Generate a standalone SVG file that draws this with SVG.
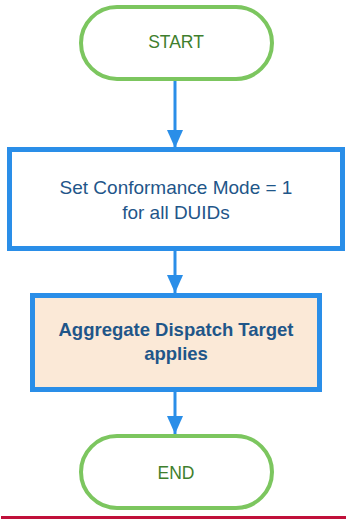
<svg xmlns="http://www.w3.org/2000/svg" width="346" height="519" viewBox="0 0 346 519">
<style>
.term{fill:#ffffff;stroke:#7cc65f;stroke-width:4}
.proc{fill:#ffffff;stroke:#2a8ee8;stroke-width:5}
.hl{fill:#fbe9d7}
.tt{font-family:"Liberation Sans",Arial,sans-serif;font-size:17.5px;fill:#3f7f2e;text-anchor:middle}
.pt{font-family:"Liberation Sans",Arial,sans-serif;font-size:19px;fill:#1f5689;text-anchor:middle}
.b{font-weight:bold;font-size:18.5px}
.conn{stroke:#2a8ee8;stroke-width:3;fill:none}
</style>
<defs>
<marker id="ah" viewBox="0 0 18 16" refX="18" refY="8" markerWidth="18" markerHeight="16" markerUnits="userSpaceOnUse" orient="auto">
<path d="M0,0 L18,8 L0,16 Z" fill="#2a8ee8"/>
</marker>
</defs>
<rect x="0" y="0" width="346" height="519" fill="#ffffff"/>
<g id="connectors">
<line class="conn" x1="175" y1="80" x2="175" y2="148" marker-end="url(#ah)"/>
<line class="conn" x1="175" y1="250" x2="175" y2="293" marker-end="url(#ah)"/>
<line class="conn" x1="175" y1="392" x2="175" y2="434" marker-end="url(#ah)"/>
</g>
<g id="start">
<rect class="term" x="81" y="7" width="191" height="72" rx="36"/>
<text class="tt" x="176" y="48">START</text>
</g>
<g id="setmode">
<rect class="proc" x="9.5" y="149.5" width="333" height="99"/>
<text class="pt" x="176" y="194">Set Conformance Mode = 1</text>
<text class="pt" x="176" y="219">for all DUIDs</text>
</g>
<g id="aggregate">
<rect class="proc hl" x="32.5" y="295.5" width="287" height="94"/>
<text class="pt b" x="176" y="336">Aggregate Dispatch Target</text>
<text class="pt b" x="176" y="360">applies</text>
</g>
<g id="end">
<rect class="term" x="81" y="436" width="191" height="72" rx="36"/>
<text class="tt" x="176" y="479">END</text>
</g>
<line x1="1" y1="517.5" x2="346" y2="517.5" stroke="#c0103a" stroke-width="3"/>
</svg>
